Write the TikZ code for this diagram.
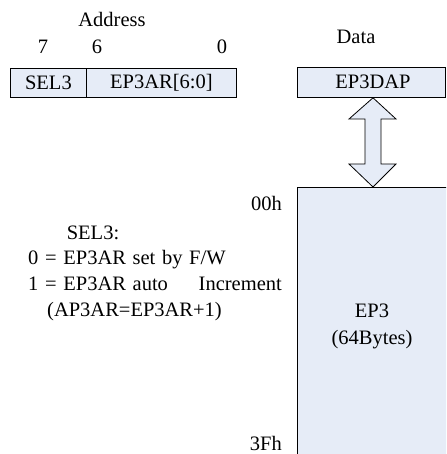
\documentclass[tikz,border=0pt]{standalone}
\usepackage{fontspec}
\setmainfont[WordSpace=1.3]{Liberation Serif}
\definecolor{boxfill}{RGB}{230,236,247}
\begin{document}
\begin{tikzpicture}[x=1pt,y=-1pt,
  txt/.style={inner sep=0pt, font=\fontsize{20.5}{24}\selectfont},
  reg/.style={draw=black, fill=boxfill, line width=0.8pt, inner sep=0pt, font=\fontsize{20.5}{24}\selectfont}]
\useasboundingbox (0,0) rectangle (446,454);
\clip (0,0) rectangle (446,454);
% address header
\node[txt, anchor=base] (addr) at (112,27) {Address};
\node[txt, anchor=base] (b7) at (43,54) {7};
\node[txt, anchor=base] (b6) at (97,54) {6};
\node[txt, anchor=base] (b0) at (222,54) {0};
% address register
\node[reg, anchor=north west, minimum width=76pt, minimum height=29pt] (sel) at (10,68) {SEL3};
\node[reg, anchor=north west, minimum width=150pt, minimum height=29pt] (ar) at (86,68) {EP3AR[6:0]};
% data
\node[txt, anchor=base] (data) at (356,44) {Data};
\node[reg, anchor=north west, minimum width=148pt, minimum height=30pt] (dap) at (297,67) {};
\node[txt] (daptxt) at (373,82) {EP3DAP};
% EP3 memory
\node[reg, anchor=north west, minimum width=170pt, minimum height=300pt] (ep3) at (297,187) {};
\node[txt, anchor=base] (ep3a) at (372,317) {EP3};
\node[txt, anchor=base] (ep3b) at (372,344) {(64Bytes)};
% double arrow
\draw[fill=boxfill, line width=0.8pt, line join=miter]
  (dap.south -| 373,0) -- (396,119) -- (381,119) -- (381,164) -- (396,164)
  -- (ep3.north -| 373,0) -- (349,164) -- (365,164) -- (365,119) -- (349,119) -- cycle;
% address labels
\node[txt, anchor=base east] (h00) at (282,210) {00h};
\node[txt, anchor=base east] (h3f) at (282,450.5) {3Fh};
% SEL3 description
\node[txt, anchor=base] (s0) at (93,239) {SEL3:};
\node[txt, anchor=base west] (s1) at (28,264) {0 = EP3AR set by F/W};
\node[txt, anchor=base west] (s2) at (28,290) {1 = EP3AR auto};
\node[txt, anchor=base east] (s2b) at (282,290) {Increment};
\node[txt, anchor=base west] (s3) at (47,316) {(AP3AR=EP3AR+1)};
\end{tikzpicture}
\end{document}
